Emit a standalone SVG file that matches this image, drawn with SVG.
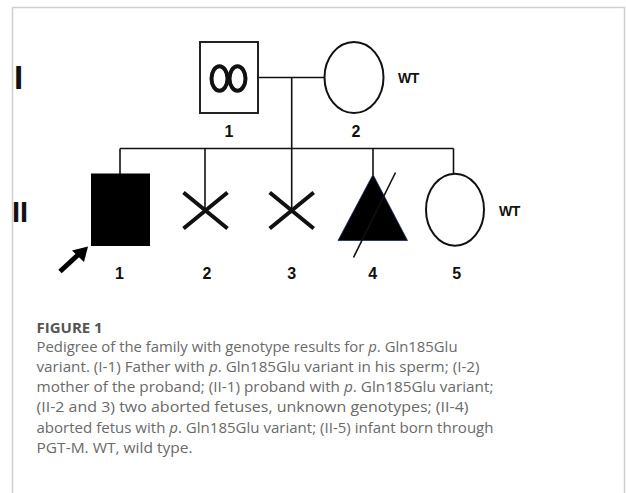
<svg xmlns="http://www.w3.org/2000/svg" width="626" height="493" viewBox="0 0 626 493">
<style>
.ln{stroke:#111;stroke-width:1.6;fill:none}
.num{font-family:"Liberation Sans",Arial,sans-serif;font-weight:bold;font-size:16px;fill:#111;text-anchor:middle}
.wt{font-family:"Liberation Sans",Arial,sans-serif;font-weight:bold;font-size:14px;fill:#111;letter-spacing:-0.5px}
.gen{font-family:"Liberation Sans",Arial,sans-serif;font-weight:bold;fill:#111}
.cap{font-family:"Open Sans","Liberation Sans",sans-serif;font-size:14.5px;fill:#6a6a6a}
.capt{font-family:"Open Sans","Liberation Sans",sans-serif;font-size:15px;font-weight:bold;fill:#555}
.x{stroke:#111;stroke-width:4;fill:none}
</style>
<rect x="0" y="0" width="626" height="493" fill="#fff"/>
<path d="M12.5 500 V7.5 H624.5 V500" fill="none" stroke="#cfcfcf" stroke-width="1.5"/>
<text class="gen" x="14" y="89" font-size="33">I</text>
<text class="gen" x="12" y="222" font-size="29">II</text>
<g id="connectors">
<line class="ln" x1="258" y1="77.5" x2="324.5" y2="77.5"/>
<line class="ln" x1="291.7" y1="77.5" x2="291.7" y2="149"/>
<line class="ln" x1="120" y1="148.5" x2="453.5" y2="148.5"/>
<line class="ln" x1="120" y1="148.5" x2="120" y2="174"/>
<line class="ln" x1="205" y1="148.5" x2="205" y2="210"/>
<line class="ln" x1="291.7" y1="148.5" x2="291.7" y2="210"/>
<line class="ln" x1="373" y1="148.5" x2="373" y2="175"/>
<line class="ln" x1="453.5" y1="148.5" x2="453.5" y2="174"/>
</g>
<g id="I-1">
<rect x="200" y="42" width="58" height="71" fill="#fff" stroke="#222" stroke-width="2"/>
<ellipse cx="219.5" cy="78.5" rx="8" ry="12.3" fill="none" stroke="#111" stroke-width="4"/>
<ellipse cx="237.5" cy="78.5" rx="8" ry="12.3" fill="none" stroke="#111" stroke-width="4"/>
<text class="num" x="229" y="137">1</text>
</g>
<g id="I-2">
<ellipse cx="354" cy="77.5" rx="29.5" ry="35.5" fill="#fff" stroke="#111" stroke-width="2"/>
<text class="num" x="356" y="137">2</text>
<text class="wt" x="398" y="83">WT</text>
</g>
<g id="II-1">
<rect x="91" y="173.5" width="59" height="72.5" fill="#000"/>
<path d="M60 271.5 L79 254" stroke="#000" stroke-width="5" fill="none"/>
<path d="M88 246.5 L72 250.5 L84 262 Z" fill="#000"/>
<text class="num" x="119.5" y="279">1</text>
</g>
<g id="II-2">
<path class="x" d="M183.5 192.5 L227.5 228.5 M227.5 192.5 L183.5 228.5"/>
<text class="num" x="207" y="279">2</text>
</g>
<g id="II-3">
<path class="x" d="M269.7 192.5 L313.7 228.5 M313.7 192.5 L269.7 228.5"/>
<text class="num" x="291.7" y="279">3</text>
</g>
<g id="II-4">
<path d="M373 174.5 L407.5 240.5 L338 240.5 Z" fill="#000" stroke="#1a2a6a" stroke-width="0.8"/>
<line x1="353.5" y1="257.5" x2="395.5" y2="172.5" stroke="#111" stroke-width="1.6"/>
<text class="num" x="372.7" y="279">4</text>
</g>
<g id="II-5">
<ellipse cx="455" cy="209.7" rx="29" ry="36" fill="#fff" stroke="#111" stroke-width="2"/>
<text class="num" x="456.7" y="279">5</text>
<text class="wt" x="499" y="216">WT</text>
</g>
<g id="caption">
<text class="capt" x="36.5" y="332.5">FIGURE 1</text>
<text class="cap" x="36.5" y="351.5" textLength="421" lengthAdjust="spacingAndGlyphs">Pedigree of the family with genotype results for <tspan font-style="italic">p</tspan>. Gln185Glu</text>
<text class="cap" x="36.5" y="371.8" textLength="443" lengthAdjust="spacingAndGlyphs">variant. (I-1) Father with <tspan font-style="italic">p</tspan>. Gln185Glu variant in his sperm; (I-2)</text>
<text class="cap" x="36.5" y="392" textLength="457" lengthAdjust="spacingAndGlyphs">mother of the proband; (II-1) proband with <tspan font-style="italic">p</tspan>. Gln185Glu variant;</text>
<text class="cap" x="36.5" y="412.3" textLength="432" lengthAdjust="spacingAndGlyphs">(II-2 and 3) two aborted fetuses, unknown genotypes; (II-4)</text>
<text class="cap" x="36.5" y="432.6" textLength="457" lengthAdjust="spacingAndGlyphs">aborted fetus with <tspan font-style="italic">p</tspan>. Gln185Glu variant; (II-5) infant born through</text>
<text class="cap" x="36.5" y="452.8" textLength="156" lengthAdjust="spacingAndGlyphs">PGT-M. WT, wild type.</text>
</g>
</svg>
